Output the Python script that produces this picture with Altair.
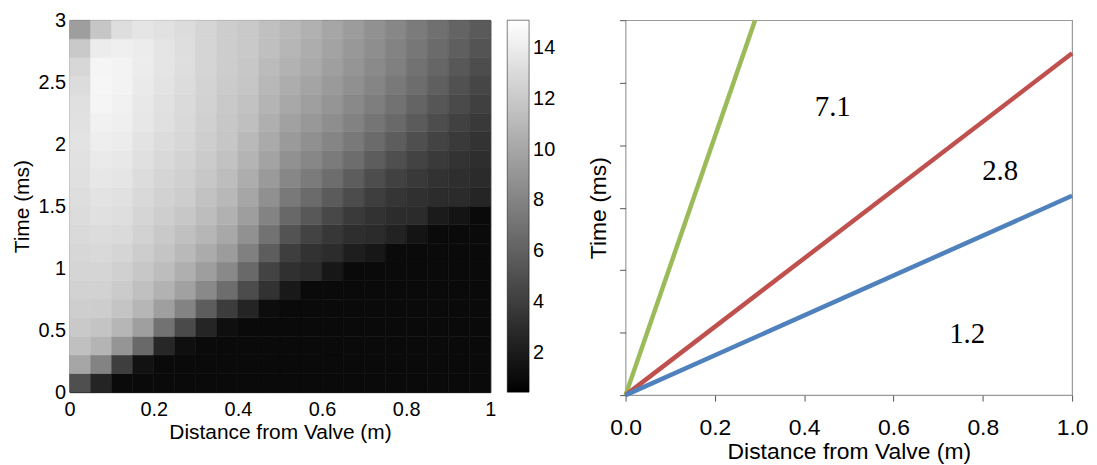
import altair as alt
import pandas as pd

# ---------------- Left panel: grey-scale field ----------------
# cell centres
dist_centers = [0.025, 0.075, 0.125, 0.175, 0.225, 0.275, 0.325, 0.375, 0.425, 0.475,
                0.525, 0.575, 0.625, 0.675, 0.725, 0.775, 0.825, 0.875, 0.925, 0.975]
time_centers = [0.075, 0.225, 0.375, 0.525, 0.675, 0.825, 0.975, 1.125, 1.275, 1.425,
                1.575, 1.725, 1.875, 2.025, 2.175, 2.325, 2.475, 2.625, 2.775, 2.925]
dist_half = 0.025
time_half = 0.075

# one list per distance column, values from t = 0 (bottom) to t = 3 (top)
field_columns = [
    [5.0, 10.0, 11.5, 12.0, 12.3, 12.5, 12.7, 12.8, 13.0, 13.1, 13.2, 13.3, 13.4, 13.5, 13.4, 13.3, 13.1, 12.8, 12.0, 9.5],
    [2.5, 8.0, 10.8, 11.7, 12.2, 12.5, 12.7, 12.9, 13.1, 13.3, 13.5, 13.7, 13.9, 14.1, 14.3, 14.5, 14.6, 14.5, 14.0, 11.8],
    [1.0, 4.0, 9.0, 10.9, 11.7, 12.1, 12.4, 12.7, 13.0, 13.2, 13.4, 13.6, 13.8, 14.0, 14.2, 14.3, 14.4, 14.4, 14.2, 13.2],
    [1.0, 1.5, 6.5, 9.6, 10.9, 11.5, 11.9, 12.2, 12.5, 12.7, 12.9, 13.1, 13.3, 13.5, 13.7, 13.8, 13.9, 14.0, 14.0, 13.6],
    [1.0, 1.0, 2.7, 7.0, 9.6, 10.7, 11.3, 11.7, 12.0, 12.3, 12.5, 12.7, 12.9, 13.1, 13.3, 13.4, 13.5, 13.6, 13.6, 13.4],
    [1.0, 1.0, 1.3, 4.7, 8.0, 9.7, 10.5, 11.1, 11.5, 11.9, 12.2, 12.4, 12.6, 12.8, 12.9, 13.0, 13.1, 13.2, 13.2, 13.1],
    [1.0, 1.0, 1.0, 2.6, 5.8, 8.3, 9.5, 10.3, 10.9, 11.3, 11.6, 11.9, 12.1, 12.3, 12.4, 12.5, 12.6, 12.7, 12.7, 12.7],
    [1.0, 1.0, 1.0, 1.3, 3.9, 6.7, 8.3, 9.4, 10.1, 10.6, 11.0, 11.3, 11.6, 11.8, 11.9, 12.0, 12.1, 12.2, 12.2, 12.2],
    [1.0, 1.0, 1.0, 1.0, 2.5, 4.8, 6.5, 7.8, 8.8, 9.5, 10.0, 10.4, 10.8, 11.1, 11.4, 11.6, 11.8, 11.9, 12.0, 12.0],
    [1.0, 1.0, 1.0, 1.0, 1.2, 3.3, 4.3, 5.8, 7.0, 8.0, 8.7, 9.3, 9.8, 10.2, 10.5, 10.8, 11.0, 11.2, 11.4, 11.5],
    [1.0, 1.0, 1.0, 1.0, 1.0, 1.9, 3.2, 4.0, 5.2, 6.4, 7.4, 8.2, 8.8, 9.3, 9.7, 10.1, 10.4, 10.7, 10.9, 11.1],
    [1.0, 1.0, 1.0, 1.0, 1.0, 1.0, 2.9, 3.3, 4.3, 5.5, 6.6, 7.5, 8.2, 8.7, 9.2, 9.6, 9.9, 10.2, 10.4, 10.6],
    [1.0, 1.0, 1.0, 1.0, 1.0, 1.0, 1.8, 3.0, 3.6, 4.6, 5.7, 6.7, 7.5, 8.1, 8.6, 9.0, 9.3, 9.6, 9.8, 10.0],
    [1.0, 1.0, 1.0, 1.0, 1.0, 1.0, 1.0, 2.2, 3.1, 3.8, 4.8, 5.8, 6.7, 7.4, 7.9, 8.3, 8.7, 9.0, 9.2, 9.4],
    [1.0, 1.0, 1.0, 1.0, 1.0, 1.0, 1.0, 1.8, 2.9, 3.3, 4.0, 4.9, 5.8, 6.6, 7.2, 7.7, 8.1, 8.4, 8.6, 8.8],
    [1.0, 1.0, 1.0, 1.0, 1.0, 1.0, 1.0, 1.0, 2.4, 3.0, 3.5, 4.2, 5.0, 5.8, 6.5, 7.0, 7.4, 7.8, 8.0, 8.2],
    [1.0, 1.0, 1.0, 1.0, 1.0, 1.0, 1.0, 1.0, 1.6, 2.9, 3.2, 3.7, 4.3, 5.0, 5.7, 6.2, 6.7, 7.0, 7.3, 7.5],
    [1.0, 1.0, 1.0, 1.0, 1.0, 1.0, 1.0, 1.0, 1.0, 2.0, 3.0, 3.3, 3.8, 4.3, 4.9, 5.4, 5.9, 6.3, 6.6, 6.9],
    [1.0, 1.0, 1.0, 1.0, 1.0, 1.0, 1.0, 1.0, 1.0, 1.6, 2.9, 3.1, 3.4, 3.8, 4.2, 4.7, 5.1, 5.5, 5.9, 6.2],
    [1.0, 1.0, 1.0, 1.0, 1.0, 1.0, 1.0, 1.0, 1.0, 1.0, 2.6, 2.9, 3.1, 3.4, 3.7, 4.1, 4.5, 4.9, 5.3, 5.6],
]
colorbar_ticks = [2, 4, 6, 8, 10, 12, 14]
heat_x_ticks = [0, 0.2, 0.4, 0.6, 0.8, 1]
heat_y_ticks = [0, 0.5, 1, 1.5, 2, 2.5, 3]

# ---------------- Right panel: lines ----------------
line_series = ["green", "red", "blue"]
line_colors = ["#9bbb59", "#c0504d", "#4f81bd"]
line_x_end = [0.29, 1.0, 1.0]
line_y_end = [6.0, 5.47, 3.19]
label_texts = ["7.1", "2.8", "1.2"]
label_x = [0.464, 0.839, 0.765]
label_y = [4.61, 3.58, 0.98]
line_x_ticks = [0, 0.2, 0.4, 0.6, 0.8, 1.0]
line_y_ticks = [0, 1, 2, 3, 4, 5, 6]

# build tables
rows = []
for i, xc in enumerate(dist_centers):
    for j, tc in enumerate(time_centers):
        rows.append({"x0": xc - dist_half, "x1": xc + dist_half,
                     "t0": tc - time_half, "t1": tc + time_half,
                     "v": field_columns[i][j]})
heat_df = pd.DataFrame(rows)

line_rows = []
for s, xe, ye in zip(line_series, line_x_end, line_y_end):
    line_rows.append({"series": s, "x": 0.0, "y": 0.0, "o": 0})
    line_rows.append({"series": s, "x": xe, "y": ye, "o": 1})
line_df = pd.DataFrame(line_rows)
label_df = pd.DataFrame({"label": label_texts, "x": label_x, "y": label_y})

SANS = "Liberation Sans"
gray_scale = alt.Scale(domain=[0.45, 15.1], range=["#000000", "#ffffff"], interpolate="rgb")

heat = alt.Chart(heat_df).mark_rect(strokeWidth=0.6).encode(
    x=alt.X("x0:Q", scale=alt.Scale(domain=[0, 1], nice=False, zero=False),
            axis=alt.Axis(values=heat_x_ticks, format="~g", title="Distance from Valve (m)",
                          labelFont=SANS, titleFont=SANS, labelFontSize=20, titleFontSize=21,
                          titleFontWeight="normal", labelColor="black", titleColor="black",
                          ticks=False, domain=False, grid=False, labelPadding=7,
                          titlePadding=3, labelFlush=False)),
    x2="x1",
    y=alt.Y("t0:Q", scale=alt.Scale(domain=[0, 3], nice=False, zero=False),
            axis=alt.Axis(values=heat_y_ticks, format="~g", title="Time (ms)",
                          labelFont=SANS, titleFont=SANS, labelFontSize=20, titleFontSize=21,
                          titleFontWeight="normal", labelColor="black", titleColor="black",
                          ticks=False, domain=False, grid=False, labelPadding=4,
                          titlePadding=6, labelFlush=False)),
    y2="t1",
    color=alt.Color("v:Q", scale=gray_scale,
                    legend=alt.Legend(title=None, orient="right", offset=17, direction="vertical",
                                      gradientLength=374, gradientThickness=22,
                                      values=colorbar_ticks, labelFont=SANS, labelFontSize=20,
                                      labelColor="black", labelOffset=4, padding=0,
                                      gradientStrokeColor="black", gradientStrokeWidth=0.5,
                                      labelOverlap=False)),
    stroke=alt.Stroke("v:Q", scale=gray_scale, legend=None),
).properties(width=423, height=374, view=alt.ViewBackground(stroke="black", strokeWidth=1))

lines = alt.Chart(line_df).mark_line(strokeWidth=4.5).encode(
    x=alt.X("x:Q", scale=alt.Scale(domain=[0, 1], nice=False),
            axis=alt.Axis(values=line_x_ticks, format=".1f", title="Distance from Valve (m)",
                          labelFont=SANS, titleFont=SANS, labelFontSize=23, titleFontSize=23,
                          titleFontWeight="normal", labelColor="black", titleColor="black",
                          tickSize=6, tickColor="#555555", domain=False, grid=False,
                          labelPadding=16, titlePadding=1, labelFlush=False)),
    y=alt.Y("y:Q", scale=alt.Scale(domain=[0, 6], nice=False),
            axis=alt.Axis(values=line_y_ticks, labels=False, title="Time (ms)",
                          titleFont=SANS, titleFontSize=23, titleFontWeight="normal",
                          titleColor="black", tickSize=6, tickColor="#555555",
                          domain=False, grid=False, titlePadding=9)),
    color=alt.Color("series:N", scale=alt.Scale(domain=line_series, range=line_colors), legend=None),
    order="o:Q",
)

labels = alt.Chart(label_df).mark_text(font="Liberation Serif", fontSize=29, color="black").encode(
    x="x:Q", y="y:Q", text="label:N"
)

right = alt.layer(lines, labels).properties(
    width=449, height=377, view=alt.ViewBackground(stroke="#9a9a9a", strokeWidth=1.2)
)

chart = alt.hconcat(heat, right, spacing=29).properties(
    padding={"left": 2, "top": 0, "right": 0, "bottom": 0}
).resolve_scale(color="independent")

chart.save("out.html", embed_options={"renderer": "svg", "actions": False})
